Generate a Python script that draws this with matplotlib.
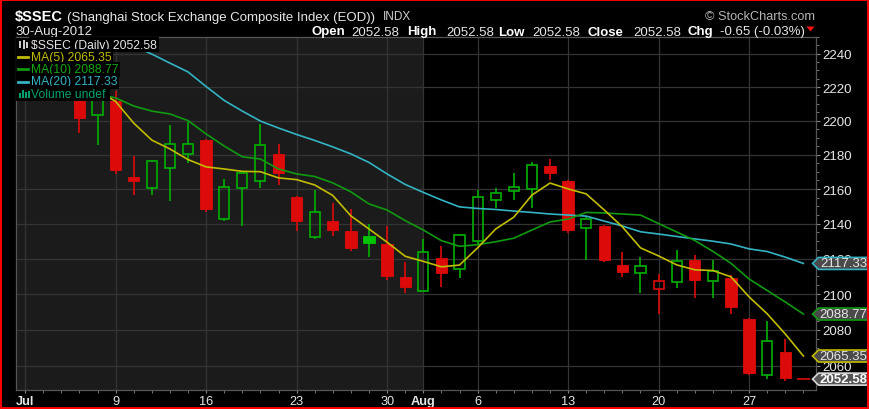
"""
$SSEC daily candlestick chart, StockCharts style
"""
import matplotlib
matplotlib.use('Agg')
import matplotlib.pyplot as plt
import matplotlib.ticker as mticker
from matplotlib.patches import Rectangle, Polygon
import numpy as np

W, H = 869, 410

# trading days Jul 2 .. Aug 30 2012 (index positions on the x axis)
dates = ['07-02', '07-03', '07-04', '07-05', '07-06', '07-09', '07-10', '07-11', '07-12', '07-13',
         '07-16', '07-17', '07-18', '07-19', '07-20', '07-23', '07-24', '07-25', '07-26', '07-27',
         '07-30', '07-31', '08-01', '08-02', '08-03', '08-06', '08-07', '08-08', '08-09', '08-10',
         '08-13', '08-14', '08-15', '08-16', '08-17', '08-20', '08-21', '08-22', '08-23', '08-24',
         '08-27', '08-28', '08-29', '08-30']
tick_pos = [0, 5, 10, 15, 20, 22, 25, 30, 35, 40]
tick_labels = ['Jul', '9', '16', '23', '30', 'Aug', '6', '13', '20', '27']

opens = [2225.0, 2224.0, 2229.0, 2224.0, 2203.5, 2211.6, 2167.3, 2160.6, 2172.2, 2180.4,
         2188.6, 2142.7, 2160.7, 2164.8, 2180.4, 2155.3, 2132.6, 2141.4, 2135.7, 2132.9,
         2128.2, 2109.9, 2101.9, 2120.6, 2114.1, 2129.9, 2153.4, 2159.1, 2160.1, 2173.3,
         2164.5, 2137.6, 2138.7, 2116.5, 2111.8, 2102.9, 2107.0, 2119.3, 2107.6, 2109.1,
         2086.0, 2055.0, 2067.4, 2052.58]
highs = [2232.0, 2235.0, 2232.0, 2228.0, 2226.0, 2217.8, 2179.1, 2177.1, 2197.5, 2199.4,
         2189.5, 2165.9, 2170.7, 2198.1, 2186.2, 2156.0, 2159.5, 2152.0, 2148.5, 2139.8,
         2138.9, 2118.0, 2131.3, 2127.1, 2134.2, 2159.7, 2160.5, 2169.6, 2176.0, 2177.3,
         2165.2, 2144.6, 2139.5, 2123.7, 2121.2, 2111.3, 2124.7, 2122.1, 2119.3, 2110.8,
         2086.5, 2084.7, 2074.9, 2052.58]
lows = [2215.0, 2218.0, 2219.0, 2192.6, 2185.9, 2168.7, 2156.8, 2156.8, 2153.1, 2175.2,
        2146.8, 2141.7, 2138.9, 2160.5, 2162.6, 2135.7, 2131.0, 2132.9, 2124.6, 2120.9,
        2108.1, 2100.6, 2101.5, 2103.7, 2108.9, 2127.7, 2148.9, 2153.4, 2148.9, 2165.5,
        2134.7, 2119.4, 2118.3, 2109.4, 2100.8, 2088.8, 2103.2, 2097.6, 2097.6, 2088.8,
        2055.0, 2052.7, 2051.6, 2052.58]
closes = [2226.0, 2229.0, 2227.0, 2201.4, 2222.0, 2171.3, 2164.8, 2176.2, 2186.1, 2186.5,
          2148.3, 2161.4, 2169.4, 2185.6, 2169.4, 2141.7, 2147.0, 2136.6, 2126.2, 2128.9,
          2110.4, 2104.2, 2124.1, 2111.8, 2133.3, 2155.7, 2157.8, 2161.4, 2174.1, 2169.4,
          2136.6, 2142.7, 2119.4, 2112.4, 2115.6, 2107.6, 2118.8, 2108.1, 2113.3, 2092.5,
          2055.8, 2073.6, 2053.23, 2052.58]

nan = np.nan
ma5 = [nan, nan, nan, nan, 2218.0, 2211.4, 2198.6, 2188.6, 2183.4, 2177.2,
       2172.9, 2171.7, 2170.3, 2170.1, 2166.5, 2165.5, 2162.4, 2156.3, 2144.5, 2137.0,
       2129.4, 2121.4, 2118.5, 2115.4, 2116.4, 2126.2, 2137.0, 2143.8, 2156.5, 2163.5,
       2160.1, 2157.2, 2147.9, 2138.2, 2126.2, 2121.6, 2116.5, 2113.7, 2113.3, 2109.7,
       2098.4, 2088.9, 2077.6, 2065.35]
ma10 = [nan, nan, nan, nan, 2216.0, 2213.5, 2208.7, 2205.7, 2204.0, 2200.1,
        2192.2, 2185.1, 2178.8, 2177.5, 2171.7, 2168.8, 2167.3, 2163.6, 2158.4, 2151.4,
        2147.9, 2141.8, 2136.4, 2130.3, 2127.1, 2128.0, 2129.7, 2131.7, 2136.4, 2141.0,
        2142.7, 2146.5, 2146.2, 2145.6, 2145.0, 2140.1, 2135.3, 2130.4, 2124.2, 2117.4,
        2108.5, 2102.0, 2095.5, 2088.77]
ma20 = [nan, nan, nan, nan, 2256.0, 2250.0, 2244.6, 2239.7, 2234.3, 2229.0,
        2220.3, 2212.0, 2205.7, 2199.8, 2195.7, 2191.9, 2188.4, 2184.6, 2180.5, 2175.5,
        2168.8, 2162.7, 2158.1, 2153.7, 2149.7, 2148.8, 2148.2, 2147.3, 2146.5, 2145.6,
        2145.0, 2144.4, 2141.5, 2138.7, 2135.4, 2134.1, 2132.7, 2131.3, 2130.0, 2128.4,
        2125.6, 2124.1, 2120.9, 2117.33]
y_ticks = list(range(2060, 2241, 20))

RED = '#dd0a0a'
GREEN = '#00b000'
GREEN_FILL = '#00c400'
C_MA5 = '#c2bc00'
C_MA10 = '#109a10'
C_MA20 = '#33b3c4'
TXT = '#e6e6e6'

plt.rcParams['font.family'] = ['Liberation Sans', 'DejaVu Sans']


def fx(x):
    return x / W


def fy(y):
    return 1 - y / H


fig = plt.figure(figsize=(W / 100, H / 100), dpi=100, facecolor='black')
ax = fig.add_axes([fx(15.7), fy(391), (815.7 - 15.7) / W, (391 - 38) / H])
ax.set_facecolor('black')
ax.set_yscale('log')

# July shaded area
ax.axvspan(-0.52, 22, color='#1b1b1b', zorder=0.1, lw=0)

# Candles
idx = np.arange(len(closes))
for i in idx:
    o, h, l, c = opens[i], highs[i], lows[i], closes[i]
    prev = closes[i - 1] if i > 0 else o
    col = GREEN if c >= prev else RED
    top, bot = max(o, c), min(o, c)
    if h > top:
        ax.vlines(i, top, h, color=col, lw=1.2, zorder=3)
    if l < bot:
        ax.vlines(i, l, bot, color=col, lw=1.2, zorder=3)
    if o == c:
        ax.hlines(c, i - 0.36, i + 0.36, color=col, lw=1.2, zorder=3)
    elif c < o:
        fc = GREEN_FILL if col == GREEN else col
        ax.bar(i, top - bot, bottom=bot, width=0.62, color=fc, edgecolor=fc, lw=0.6, zorder=3)
    else:
        ax.bar(i, top - bot, bottom=bot, width=0.56, facecolor='none', edgecolor=col,
               lw=1.2, zorder=3)

# Moving averages
ax.plot(idx, ma20, color=C_MA20, lw=1.2, zorder=4)
ax.plot(idx, ma10, color=C_MA10, lw=1.2, zorder=4)
ax.plot(idx, ma5, color=C_MA5, lw=1.2, zorder=4)

ax.set_xlim(-0.52, 43.68)
ax.set_ylim(2046.6, 2250)

# Axes formatting
ax.yaxis.tick_right()
ax.yaxis.set_major_locator(mticker.FixedLocator(y_ticks))
ax.yaxis.set_major_formatter(mticker.FuncFormatter(lambda v, p: f'{v:.0f}'))
ax.yaxis.set_minor_locator(mticker.FixedLocator([v for v in range(2045, 2251, 5) if v % 20]))
ax.yaxis.set_minor_formatter(mticker.NullFormatter())
ax.xaxis.set_major_locator(mticker.FixedLocator(tick_pos))
ax.xaxis.set_major_formatter(mticker.FixedFormatter(tick_labels))
ax.xaxis.set_minor_locator(mticker.FixedLocator(idx))
ax.tick_params(axis='y', which='major', length=3, width=0.8, color='#888888',
               labelcolor=TXT, labelsize=9.5, pad=1.5)
ax.tick_params(axis='y', which='minor', length=1.8, width=0.7, color='#777777')
ax.tick_params(axis='x', which='major', length=2.5, width=0.8, color='#888888',
               labelcolor=TXT, labelsize=9.2, pad=0.8)
ax.tick_params(axis='x', which='minor', length=2, width=0.7, color='#777777')
for lab in ax.get_xticklabels():
    lab.set_family(['Liberation Sans Narrow', 'Liberation Sans', 'DejaVu Sans'])
    if lab.get_text() in ('Jul', 'Aug'):
        lab.set_fontweight('bold')
ax.grid(True, which='major', color='#343434', lw=0.9)
ax.set_axisbelow(True)
for sp in ax.spines.values():
    sp.set_color('#555555')
    sp.set_linewidth(0.9)

# Legend block (top-left, black boxes)
fig.patches.append(Rectangle((fx(16.3), fy(101.5)), (110 - 16.3) / W, (101.5 - 38.6) / H,
                             transform=fig.transFigure, facecolor='black', edgecolor='none',
                             zorder=5))
leg_rows = [
    (45.6, f'$SSEC (Daily) {closes[-1]:.2f}', TXT, None),
    (57.9, f'MA(5) {ma5[-1]:.2f}', C_MA5, C_MA5),
    (70.2, f'MA(10) {ma10[-1]:.2f}', '#10a810', C_MA10),
    (82.5, f'MA(20) {ma20[-1]:.2f}', C_MA20, C_MA20),
    (94.8, 'Volume undef', '#00a070', None),
]
for y, s, tc, dash in leg_rows:
    fig.text(fx(31), fy(y), s, color=tc, fontsize=8.7, va='center', ha='left', zorder=6,
             bbox=dict(facecolor='black', edgecolor='none', pad=1.2))
    if dash:
        fig.lines.append(plt.Line2D([fx(18), fx(28)], [fy(y), fy(y)], color=dash, lw=2,
                                    transform=fig.transFigure, zorder=7))
# small icons: candles and volume bars
for x0, y0, h0 in [(19, 42, 7), (22.5, 41, 9), (26, 43, 6)]:
    fig.patches.append(Rectangle((fx(x0), fy(y0 + h0)), 2 / W, h0 / H, transform=fig.transFigure,
                                 facecolor='#cccccc', edgecolor='none', zorder=7))
for x0, h0 in [(18.5, 5), (21.5, 8), (24.5, 6), (27.5, 7)]:
    fig.patches.append(Rectangle((fx(x0), fy(99)), 2.2 / W, h0 / H, transform=fig.transFigure,
                                 facecolor='#00a070', edgecolor='none', zorder=7))

# Header
fig.text(fx(15), fy(20.5), '$SSEC', color='white', fontsize=10.5, fontweight='bold', va='baseline')
fig.text(fx(67), fy(20.5), '(Shanghai Stock Exchange Composite Index (EOD))', color=TXT,
         fontsize=9.5, va='baseline')
fig.text(fx(383), fy(20.5), 'INDX', color='#cfcfcf', fontsize=8.5, va='baseline')
fig.text(fx(15), fy(35), '30-Aug-2012', color=TXT, fontsize=9.5, va='baseline')
fig.text(fx(815), fy(19.5), '\u00a9 StockCharts.com', color='#b4b4b4', fontsize=9.2,
         va='baseline', ha='right')

last = closes[-1]
chg = closes[-1] - closes[-2]
pct = chg / closes[-2] * 100
hdr = [(311.7, 'Open', True), (351.7, f'{opens[-1]:.2f}', False),
       (407.5, 'High', True), (446, f'{highs[-1]:.2f}', False),
       (498, 'Low', True), (532, f'{lows[-1]:.2f}', False),
       (588, 'Close', True), (633, f'{last:.2f}', False),
       (688, 'Chg', True), (720, f'{chg:.2f} ({pct:.2f}%)', False)]
for x, s, bold in hdr:
    fig.text(fx(x), fy(35.5), s, color='white' if bold else TXT, fontsize=9.5,
             fontweight='bold' if bold else 'normal', va='baseline')
fig.patches.append(Polygon([[fx(806.5), fy(27.5)], [fx(814.5), fy(27.5)], [fx(810.5), fy(32.5)]],
                           closed=True, transform=fig.transFigure, facecolor='#ff1010',
                           edgecolor='none'))

# Price tags on the right axis
fig.canvas.draw()
tags = [(ma20[-1], C_MA20, '#4a4a4a', TXT, 'normal'),
        (ma10[-1], C_MA10, '#4a4a4a', TXT, 'normal'),
        (ma5[-1], C_MA5, '#4a4a4a', TXT, 'normal'),
        (last, '#d8d8d8', '#555555', 'white', 'bold')]
for v, ec, fc, tc, fw in tags:
    ypix = H - ax.transData.transform((43, v))[1]
    pts = [[fx(812.5), fy(ypix)], [fx(818.5), fy(ypix - 6)], [fx(868), fy(ypix - 6)],
           [fx(868), fy(ypix + 6)], [fx(818.5), fy(ypix + 6)]]
    fig.patches.append(Polygon(pts, closed=True, transform=fig.transFigure, facecolor=fc,
                               edgecolor=ec, lw=1.2, zorder=8))
    fig.text(fx(843.5), fy(ypix), f'{v:.2f}', color=tc, fontsize=9.5, fontweight=fw,
             ha='center', va='center', zorder=9)

# red frame around the picture
fig.patches.append(Rectangle((0, 0), 1, 1, transform=fig.transFigure, fill=False,
                             edgecolor='#ff0000', lw=2.8, zorder=10))

fig.savefig('out.png', dpi=100, facecolor='black')
plt.close(fig)
